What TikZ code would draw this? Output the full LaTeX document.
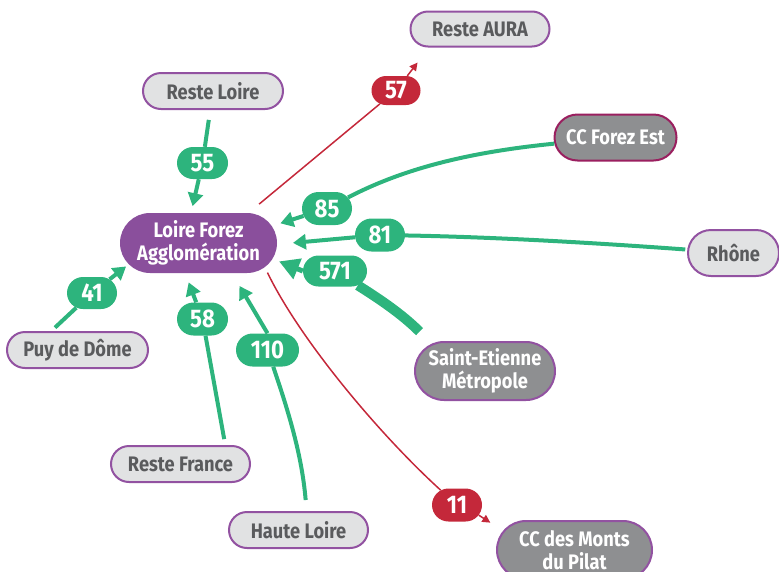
\documentclass[tikz,border=0pt]{standalone}
\usepackage{fontspec}
\setmainfont{Fira Sans}[FakeStretch=0.87]
\usetikzlibrary{shapes.misc,arrows.meta}
\definecolor{grn}{HTML}{2DB47D}
\definecolor{redc}{HTML}{C4283A}
\definecolor{lfaf}{HTML}{8A4F9C}
\definecolor{grayf}{HTML}{8E8F91}
\definecolor{lightf}{HTML}{E1E2E3}
\definecolor{pbord}{HTML}{9252A1}
\definecolor{cfeb}{HTML}{9A1F5F}
\definecolor{darkt}{HTML}{5A5B5D}
\tikzset{
  place/.style={rounded rectangle, draw=pbord, line width=2pt, fill=lightf, text=darkt,
    font=\bfseries\fontsize{21}{23}\selectfont, inner sep=0pt, align=center},
  darkplace/.style={place, fill=grayf, text=white},
  lab/.style={rounded rectangle, fill=grn, text=white,
    font=\bfseries\fontsize{25.5}{25}\selectfont, inner sep=0pt, minimum height=32pt, minimum width=50pt},
  redlab/.style={lab, fill=redc},
  flow/.style={draw=grn, line width=4pt},
  arr/.style={flow, -{Triangle[length=13pt,width=15pt]}},
  bigarr/.style={draw=grn, line width=5pt, -{Triangle[length=20pt,width=21pt]}},
  thickflow/.style={draw=grn, line width=10pt},
  rflow/.style={draw=redc, line width=1.5pt},
  rarr/.style={rflow, -{Triangle[length=8pt,width=8pt]}}
}
\begin{document}
\begin{tikzpicture}[x=1pt,y=-1pt]
\useasboundingbox (0,0) rectangle (779,571);
% places
\node[place, minimum width=139pt, minimum height=35pt] (ra) at (480,29) {Reste AURA};
\node[place, minimum width=140pt, minimum height=36pt] (rl) at (213,91) {Reste Loire};
\node[darkplace, draw=cfeb, minimum width=122pt, minimum height=46pt] (cfe) at (615.5,137.5) {CC Forez Est};
\node[place, fill=lfaf, draw=lfaf, text=white, minimum width=155pt, minimum height=58pt] (lfa) at (198.5,243) {Loire Forez\\Agglomération};
\node[place, minimum width=91pt, minimum height=46pt] (rho) at (733.5,253) {Rhône};
\node[darkplace, minimum width=140pt, minimum height=58pt] (sem) at (485,371) {Saint-Etienne\\Métropole};
\node[place, minimum width=141pt, minimum height=36pt] (pdd) at (77.5,350) {Puy de Dôme};
\node[place, minimum width=139pt, minimum height=36pt] (rf) at (180.5,464) {Reste France};
\node[place, minimum width=139pt, minimum height=36pt] (hl) at (298.5,530) {Haute Loire};
\node[darkplace, minimum width=155pt, minimum height=58pt] (pil) at (574.5,550) {CC des Monts\\du Pilat};
% labels
\node[lab, minimum width=51pt] (l55) at (202.5,163) {55};
\node[lab, minimum height=33pt] (l85) at (327,208.5) {85};
\node[lab, minimum height=33pt] (l81) at (380,235) {81};
\node[lab, minimum width=64pt, minimum height=31pt] (l571) at (335,271) {571};
\node[lab] (l41) at (92,293) {41};
\node[lab, minimum width=51pt, minimum height=33pt] (l58) at (202.5,319) {58};
\node[lab, minimum width=63pt, minimum height=33pt] (l110) at (267.5,350) {110};
\node[redlab, minimum width=49pt, minimum height=29pt] (l57) at (396,90.5) {57};
\node[redlab, minimum height=33pt] (l11) at (457,505) {11};
% green flows
\draw[flow, shorten <=10pt] (rl) -- (l55);
\draw[arr, shorten >=7pt] (l55) -- (lfa.104);
\draw[flow] (cfe) .. controls (481,151) and (410,165) .. (l85);
\draw[arr, shorten >=9pt] (l85) -- (lfa.13);
\draw[flow, shorten <=2pt] (rho) .. controls (597,243) and (495,237) .. (l81);
\draw[arr, shorten >=16pt] (l81) -- (lfa.-1);
\draw[thickflow, shorten <=17pt] (sem.153) .. controls (402,314) and (378,298) .. (l571);
\draw[bigarr, shorten >=7pt] (l571.west) -- (lfa.-12);
\draw[flow, shorten <=5pt] (pdd.144) -- (l41);
\draw[arr, shorten >=3.5pt] (l41) -- (lfa.197);
\draw[flow, shorten <=6pt] (rf.23) -- (l58);
\draw[arr, shorten >=10pt] (l58) -- (lfa.246);
\draw[flow, shorten <=11pt] (hl.67) .. controls (302,456) and (289,413) .. (l110);
\draw[arr, shorten >=15pt] (l110.north) -- (lfa.-42.5);
% red flows
\draw[rflow, shorten <=14pt] (lfa.31) -- (l57);
\draw[rarr, shorten >=19pt] (l57) -- (ra.-160);
\draw[rflow, shorten <=6pt] (lfa.-20) .. controls (300,340) and (380,435) .. (l11);
\draw[rarr, shorten >=15pt] (l11.-25) -- (pil.165);
\end{tikzpicture}
\end{document}
